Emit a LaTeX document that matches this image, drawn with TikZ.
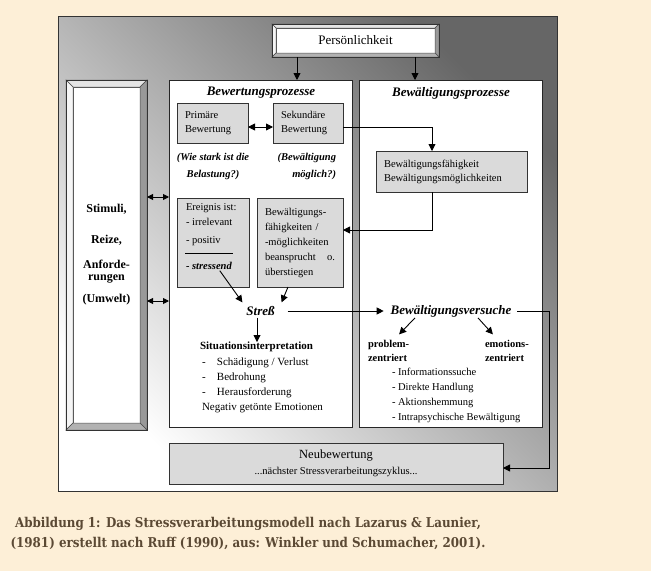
\documentclass[tikz,border=0pt]{standalone}
\usepackage{fontspec}
\setmainfont{Liberation Serif}
\newfontfamily\capfont[FakeStretch=0.88]{DejaVu Serif}
\usetikzlibrary{calc,positioning,arrows.meta}
\definecolor{cream}{HTML}{FDEFD7}
\definecolor{capbrown}{HTML}{5B4934}
\definecolor{boxgrey}{HTML}{DADADA}

\newcommand\bevel[2]{%
	\coordinate (iNW) at (#1.north west); \coordinate (iNE) at (#1.north east);
	\coordinate (iSW) at (#1.south west); \coordinate (iSE) at (#1.south east);
	\coordinate (oNW) at ($(iNW)+(-#2,-#2)$); \coordinate (oNE) at ($(iNE)+(#2,-#2)$);
	\coordinate (oSW) at ($(iSW)+(-#2,#2)$); \coordinate (oSE) at ($(iSE)+(#2,#2)$);
	\filldraw[fill=black!10,draw=black!70,line width=.5pt] (oNW)--(oNE)--(iNE)--(iNW)--cycle;
	\filldraw[fill=black!4,draw=black!70,line width=.5pt] (oNW)--(oSW)--(iSW)--(iNW)--cycle;
	\filldraw[fill=black!40,draw=black!70,line width=.5pt] (oNE)--(oSE)--(iSE)--(iNE)--cycle;
	\filldraw[fill=black!30,draw=black!70,line width=.5pt] (oSW)--(oSE)--(iSE)--(iSW)--cycle;
	\draw[black!80,line width=.8pt] (oNW) rectangle (oSE);}

\begin{document}
\begin{tikzpicture}
	[x=1pt,y=-1pt,line width=0.9pt,>={Triangle[length=7pt,width=7pt]},
	every node/.style={inner sep=0pt,outer sep=0pt},
	panel/.style={draw=black!85,fill=white},
	greybox/.style={draw=black!80,fill=boxgrey,align=left,inner xsep=8pt,
		font=\fontsize{10.5}{14}\selectfont},
	heading/.style={font=\fontsize{13}{15}\selectfont\bfseries\itshape},
	plain/.style={align=left,font=\fontsize{10.5}{15}\selectfont}]
	\fill[cream] (0,0) rectangle (651,571);
	\useasboundingbox (0,0) rectangle (651,571);
	\shade[top color=black!60,bottom color=white,shading angle=-45] (58,16) rectangle (557,491);
	\draw[black!80] (58,16) rectangle (557,491);
	
	\node[fill=white,draw=black!70,minimum width=159pt,minimum height=25pt,
		font=\fontsize{13}{14}\selectfont] (pers) at (355.5,40.5) {Persönlichkeit};
	\bevel{pers}{4}
	\node[fill=white,draw=black!70,minimum width=67pt,minimum height=336pt,align=center,
		font=\fontsize{12}{12}\selectfont\bfseries] (stim) at (106.5,255)
		{Stimuli,\\[19pt]Reize,\\[13pt]Anforde-\\rungen\\[10pt](Umwelt)};
	\bevel{stim}{7}
	
	\node[panel,minimum width=183pt,minimum height=347pt] (bew) at (260.5,253.5) {};
	\node[panel,minimum width=183pt,minimum height=347pt,right=7pt of bew] (bwp) {};
	\node[heading] (bewt) at (261,93) {Bewertungsprozesse};
	\node[heading] (bwpt) at (451,93) {Bewältigungsprozesse};
	
	\node[greybox,text width=55pt,minimum height=40pt] (prim) at (212.5,123) {Primäre\\Bewertung};
	\node[greybox,text width=54pt,minimum height=40pt,right=25pt of prim] (sek) {Sekundäre\\Bewertung};
	\node[align=center,font=\fontsize{10.5}{17}\selectfont\bfseries\itshape] (q1) at (213,166.5)
		{(Wie stark ist die\\Belastung?)};
	\node[align=right,anchor=east,font=\fontsize{10.5}{17}\selectfont\bfseries\itshape] (q2)
		at (336,166.5) {(Bewältigung\\möglich?)};
	\node[greybox,text width=135pt,minimum height=41pt] (bfk) at (451.5,171.5)
		{Bewältigungsfähigkeit\\Bewältigungsmöglichkeiten};
	
	\node[greybox,minimum width=72pt,minimum height=89pt] (ereig) at (213,242.5) {};
	\node[plain,anchor=west] (ereigtxt) at (186,225) {Ereignis ist:\\- irrelevant\\[3pt]- positiv};
	\draw[line width=.6pt] ($(ereig.west)+(8,10.5)$) -- +(48,0);
	\node[anchor=west,font=\fontsize{10.5}{14}\selectfont\bfseries\itshape] (stressend)
		at (186,266) {- stressend};
	\node[greybox,text width=70pt,minimum height=89pt,font=\fontsize{10.5}{15}\selectfont]
		(bfg) at (300,242.5)
		{Bewältigungs-\\fähigkeiten /\\-möglichkeiten\\beansprucht\hfill o.\\überstiegen};
	
	\node[heading] (stress) at (260.5,311) {Streß};
	\node[heading] (bvs) at (451,311) {Bewältigungsversuche};
	\node[font=\fontsize{11}{15}\selectfont\bfseries] (situ) at (256.5,347) {Situationsinterpretation};
	\node[plain,anchor=west,font=\fontsize{11}{15}\selectfont] (situlist) at (202,385)
		{\makebox[15pt][l]{-}Schädigung / Verlust\\\makebox[15pt][l]{-}Bedrohung\\
		\makebox[15pt][l]{-}Herausforderung\\Negativ getönte Emotionen};
	\node[align=left,anchor=west,font=\fontsize{10.5}{14}\selectfont\bfseries] (prob)
		at (368,351) {problem-\\zentriert};
	\node[align=left,anchor=west,font=\fontsize{10.5}{14}\selectfont\bfseries] (emo)
		at (485,351) {emotions-\\zentriert};
	\node[plain,anchor=west] (copelist) at (392,395.5)
		{- Informationssuche\\- Direkte Handlung\\- Aktionshemmung\\- Intrapsychische Bewältigung};
	
	\node[greybox,align=center,minimum width=334pt,minimum height=41pt,
		font=\fontsize{12.5}{16}\selectfont] (neu) at (336,463.5)
		{Neubewertung\\{\fontsize{10.5}{12}\selectfont ...nächster Stressverarbeitungszyklus...}};
	
	\node[font=\capfont\bfseries\fontsize{13.5}{20}\selectfont,text=capbrown,align=center] (cap)
		at (248,533) {Abbildung 1: Das Stressverarbeitungsmodell nach Lazarus \& Launier,\\
		(1981) erstellt nach Ruff (1990), aus: Winkler und Schumacher, 2001).};
	
	\coordinate (p1) at ($(pers.south)+(-58.5,4)$);
	\coordinate (p2) at ($(pers.south)+(59.5,4)$);
	\draw[->] (p1) -- (p1 |- bew.north);
	\draw[->] (p2) -- (p2 |- bwp.north);
	\coordinate (s1) at ($(stim.east)+(7,-58)$);
	\coordinate (s2) at ($(stim.east)+(7,46)$);
	\draw[<->,>={Triangle[length=6pt,width=6pt]}] (s1) -- (s1 -| bew.west);
	\draw[<->,>={Triangle[length=6pt,width=6pt]}] (s2) -- (s2 -| bew.west);
	
	\draw[<->] ($(prim.east)+(0,4)$) -- ($(sek.west)+(0,4)$);
	\coordinate (k1) at ($(bfk.north)+(-19.5,0)$);
	\coordinate (k2) at ($(bfk.south)+(-19.5,0)$);
	\draw[->] ($(sek.east)+(0,4)$) -| (k1);
	\draw[->] (k2) |- ($(bfg.east)+(0,-12.5)$);
	
	\draw[->] ($(stressend.south east)+(-12,1)$) -- ($(stress.north west)+(-4,-4)$);
	\draw[->] ($(bfg.south)+(-12,0)$) -- ($(stress.north east)+(7,-4)$);
	\draw[->,shorten <=13pt,shorten >=7pt] (stress.east) -- (bvs.west);
	\coordinate (t1) at ($(stress.south)+(-3.5,2)$);
	\draw[->] (t1) -- (t1 |- situ.north);
	\draw[->] ($(bvs.south)+(-36,1)$) -- ($(prob.north)+(10.5,-6)$);
	\draw[->] ($(bvs.south)+(27,1)$) -- ($(emo.north)+(-14,-6)$);
	\coordinate (r1) at ($(bvs.east)+(38,0)$);
	\draw[->,shorten <=6pt] (bvs.east) -- (r1) |- ($(neu.east)+(0,4.5)$);
\end{tikzpicture}
\end{document}
